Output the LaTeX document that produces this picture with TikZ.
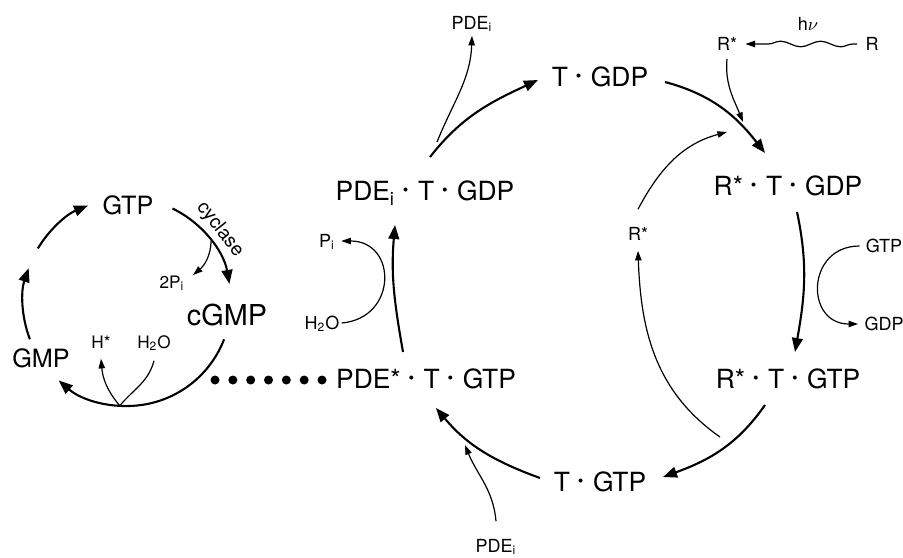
\documentclass[tikz,border=0pt]{standalone}
\usepackage{fontspec}
\setmainfont{TeX Gyre Heros}
\usepackage{graphicx}
\usepackage{tikz}
\usetikzlibrary{arrows.meta,decorations.pathmorphing}
\newcommand{\sdot}{\hspace{0.3em}\raisebox{0.2em}{\scalebox{0.6}{\textbullet}}\hspace{0.36em}}

\begin{document}
\begin{tikzpicture}[
    x=0.5pt,y=0.5pt,
    big/.style   = {font=\fontsize{13.2}{15}\selectfont, text height=9.5pt,
                    text depth=0pt, inner sep=0pt},
    lbl/.style   = {font=\fontsize{9}{10}\selectfont, text height=6.4pt,
                    text depth=0pt, inner sep=0pt},
    main/.style  = {-{Triangle[length=7pt,width=5.4pt]}, line width=1.05pt},
    side/.style  = {-{Triangle[length=4.8pt,width=3.2pt]}, line width=0.6pt},
    wave/.style  = {side, decorate, decoration={snake, amplitude=1.4pt,
                    segment length=20pt, pre length=2pt, post length=6pt}},
    beads/.style = {line width=4.5pt, line cap=round,
                    dash pattern=on 0pt off 8.917pt},
  ]
  \useasboundingbox (0,0) rectangle (903,-557);

  % cGMP cycle
  \coordinate (ccent) at (127,-302);
  \node[big,font=\fontsize{12.6}{14}\selectfont] (gtp)  at (128,-205) {GTP};
  \node[big,font=\fontsize{14.4}{16}\selectfont,text height=10.3pt] (cgmp) at (227,-315) {cGMP};
  \node[big,font=\fontsize{12.6}{14}\selectfont] (gmp)  at (41,-358)  {GMP};
  \node[lbl,font=\fontsize{8.6}{10}\selectfont] (hstar)  at (101,-342) {H*};
  \node[lbl,font=\fontsize{8.6}{10}\selectfont] (hwater) at (154,-342) {H\textsubscript{2}O};
  \node[lbl,font=\fontsize{8.6}{10}\selectfont] (twopi)  at (172,-282) {2P\textsubscript{i}};
  \node[lbl,font=\fontsize{9.6}{11}\selectfont,rotate=-52,text height=7pt,text depth=2pt]
       (cyc) at ([shift={(38:118)}]ccent) {cyclase};

  \draw[main] ([shift={(201:104)}]ccent) arc[start angle=201,end angle=161,radius=104];
  \draw[main] ([shift={(149:104)}]ccent) arc[start angle=149,end angle=112,radius=104];
  \draw[main] ([shift={(64:104)}]ccent)  arc[start angle=64,end angle=10,radius=104];
  \draw[main] ([shift={(-21:104)}]ccent) arc[start angle=-21,end angle=-131,radius=104];
  \coordinate (cside) at ([shift={(36:104)}]ccent);
  \coordinate (cbot)  at ([shift={(-94:104)}]ccent);
  \draw[side] (cside) to[out=-92,in=40] ([shift={(21,7)}]twopi.center);
  \draw[side] ([yshift=-6pt]hwater.south) to[out=-105,in=50] (cbot)
              to[out=130,in=-85] ([yshift=-5pt]hstar.south);

  \coordinate (dotA) at (215,-380);
  \coordinate (dotB) at (323,-380);
  \draw[beads] (dotA) -- (dotB);

  % transducin cycle
  \node[big] (pdestar) at (426,-379) {PDE*\sdot T\sdot GTP};
  \node[big] (pdeigdp) at (425,-191) {PDE\textsubscript{i}\sdot T\sdot GDP};
  \node[big] (tgdp)    at (600,-77)  {T\sdot GDP};
  \node[big] (rtgdp)   at (788,-186) {R*\sdot T\sdot GDP};
  \node[big] (rtgtp)   at (788,-379) {R*\sdot T\sdot GTP};
  \node[big] (tgtp)    at (600,-482) {T\sdot GTP};

  \node[lbl] (pdeitop)   at (472,-23)  {PDE\textsubscript{i}};
  \node[lbl] (pdeibot)   at (496,-546) {PDE\textsubscript{i}};
  \node[lbl] (pi)        at (327,-241) {P\textsubscript{i}};
  \node[lbl] (hwatermid) at (322,-323) {H\textsubscript{2}O};
  \node[lbl] (hnu)       at (808,-24)  {h$\nu$};
  \node[lbl] (rstartop)  at (727,-44)  {R*};
  \node[lbl] (rtop)      at (872,-44)  {R};
  \node[lbl] (rstarleft) at (638,-234) {R*};
  \node[lbl] (gtpright)  at (884,-246) {GTP};
  \node[lbl] (gdpright)  at (884,-324) {GDP};

  \draw[main] ([shift={(5,34)}]pdeigdp.center) to[out=52,in=205]
              ([shift={(-62,-3)}]tgdp.center);
  \draw[main] ([shift={(65,-5)}]tgdp.center) to[out=-15,in=128]
              ([shift={(-23,33)}]rtgdp.center);
  \draw[main] ([shift={(9,-26)}]rtgdp.center) to[out=-78,in=80]
              ([shift={(7,27)}]rtgtp.center);
  \draw[main] ([shift={(-23,-26)}]rtgtp.center) to[out=-125,in=20]
              ([shift={(63,5)}]tgtp.center);
  \draw[main] ([shift={(-60,4)}]tgtp.center) to[out=160,in=-50]
              ([shift={(10,-29)}]pdestar.center);
  \draw[main] ([shift={(-23,27)}]pdestar.center) to[out=100,in=-95]
              ([shift={(-30,-34)}]pdeigdp.center);

  \coordinate (tgtpmid) at (465,-445);
  \coordinate (rmid)    at (743,-122);
  \coordinate (rmidb)   at (727,-132);
  \coordinate (tmid)    at (720,-437);

  \draw[side] ([shift={(12,49)}]pdeigdp.center) to[out=68,in=-92]
              ([yshift=-3pt]pdeitop.south);
  \draw[side] ([xshift=1pt]hwatermid.east) to[out=5,in=0,looseness=1.75]
              ([xshift=3pt]pi.east);
  \draw[side] ([yshift=9pt]pdeibot.north) to[out=95,in=-68] (tgtpmid);
  \draw[side] ([yshift=-4pt]rstartop.south) to[out=-95,in=112] (rmid);
  \draw[wave] ([xshift=-4pt]rtop.west) -- ([xshift=4pt]rstartop.east);
  \draw[side] (tmid) to[out=145,in=-88] ([yshift=-5pt]rstarleft.south);
  \draw[side] ([yshift=9pt]rstarleft.north) to[out=62,in=195] (rmidb);
  \draw[side] ([xshift=-3pt]gtpright.west) to[out=180,in=180,looseness=1.75]
              ([xshift=-3pt]gdpright.west);

\end{tikzpicture}
\end{document}
